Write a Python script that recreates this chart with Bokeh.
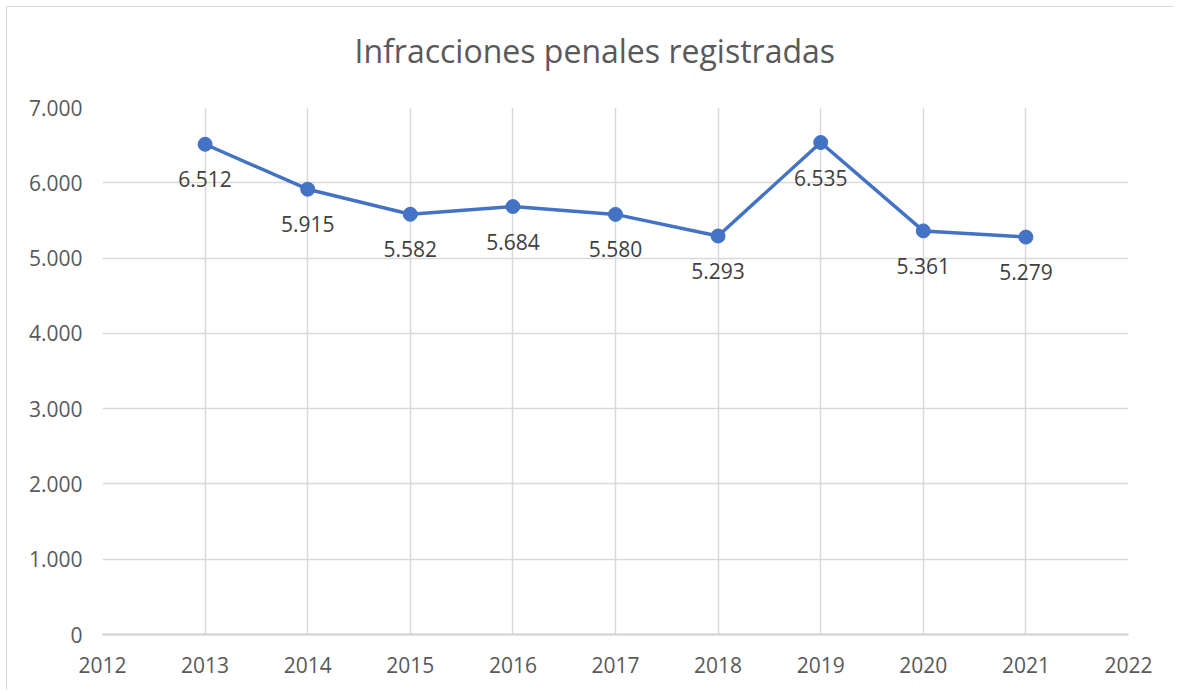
from bokeh.plotting import figure
from bokeh.models import ColumnDataSource, LabelSet, FixedTicker, Range1d, Title
from bokeh.core.properties import value
from bokeh.embed import file_html
from bokeh.resources import INLINE

years = [2013, 2014, 2015, 2016, 2017, 2018, 2019, 2020, 2021]
infracciones = [6512, 5915, 5582, 5684, 5580, 5293, 6535, 5361, 5279]
x_ticks = list(range(2012, 2023))
y_ticks = [0, 1000, 2000, 3000, 4000, 5000, 6000, 7000]
title_text = "Infracciones penales registradas"

def fmt(v):
    return f"{v:,}".replace(",", ".")

src = ColumnDataSource(dict(x=years, y=infracciones, lab=[fmt(v) for v in infracciones]))

FONT = "Open Sans"
TXT = "#595959"

p = figure(width=1168, height=684, output_backend="svg", toolbar_location=None,
           x_range=Range1d(2012, 2022), y_range=Range1d(0, 7000),
           min_border_left=95, min_border_right=47, min_border_top=100, min_border_bottom=57,
           title=title_text)
p.styles = {"margin-left": "6px", "margin-top": "6px",
            "border-left": "1px solid #d9d9d9", "border-top": "1px solid #d9d9d9",
            "border-right": "none", "box-shadow": "none", "outline": "none"}
p.outline_line_color = None
p.background_fill_color = "white"
p.border_fill_color = "white"

p.title.align = "left"
p.title.offset = 252
p.title.text_font = FONT
p.title.text_font_size = "32px"
p.title.text_font_style = "normal"
p.title.text_color = TXT
p.title.standoff = 10

spacer = Title(text=" ", text_font_size="1px", standoff=28)
p.add_layout(spacer, "above")

p.xaxis.ticker = FixedTicker(ticks=x_ticks)
p.yaxis.ticker = FixedTicker(ticks=y_ticks)
p.yaxis.major_label_overrides = {t: fmt(t) for t in y_ticks}
for ax in (p.xaxis, p.yaxis):
    ax.major_tick_line_color = None
    ax.minor_tick_line_color = None
    ax.major_label_text_font = FONT
    ax.major_label_text_font_size = "21px"
    ax.major_label_text_color = TXT
p.yaxis.axis_line_color = None
p.xaxis.axis_line_color = "#d0d0d0"
p.xaxis.axis_line_width = 2
p.yaxis.major_label_standoff = 14
p.xaxis.major_label_standoff = 16

p.xgrid.ticker = FixedTicker(ticks=x_ticks)
p.ygrid.ticker = FixedTicker(ticks=y_ticks)
p.grid.grid_line_color = "#d9d9d9"
p.grid.grid_line_width = 1.5

p.line("x", "y", source=src, line_color="#4472C4", line_width=3.5)
p.scatter("x", "y", source=src, size=14, fill_color="#4472C4", line_color="#4472C4")

labels = LabelSet(x="x", y="y", text="lab", source=src, y_offset=-35,
                  text_align="center", text_baseline="middle",
                  text_font=value(FONT), text_font_size="21px", text_color="#404040")
p.add_layout(labels)

open("out.html", "w").write(file_html(p, INLINE))
